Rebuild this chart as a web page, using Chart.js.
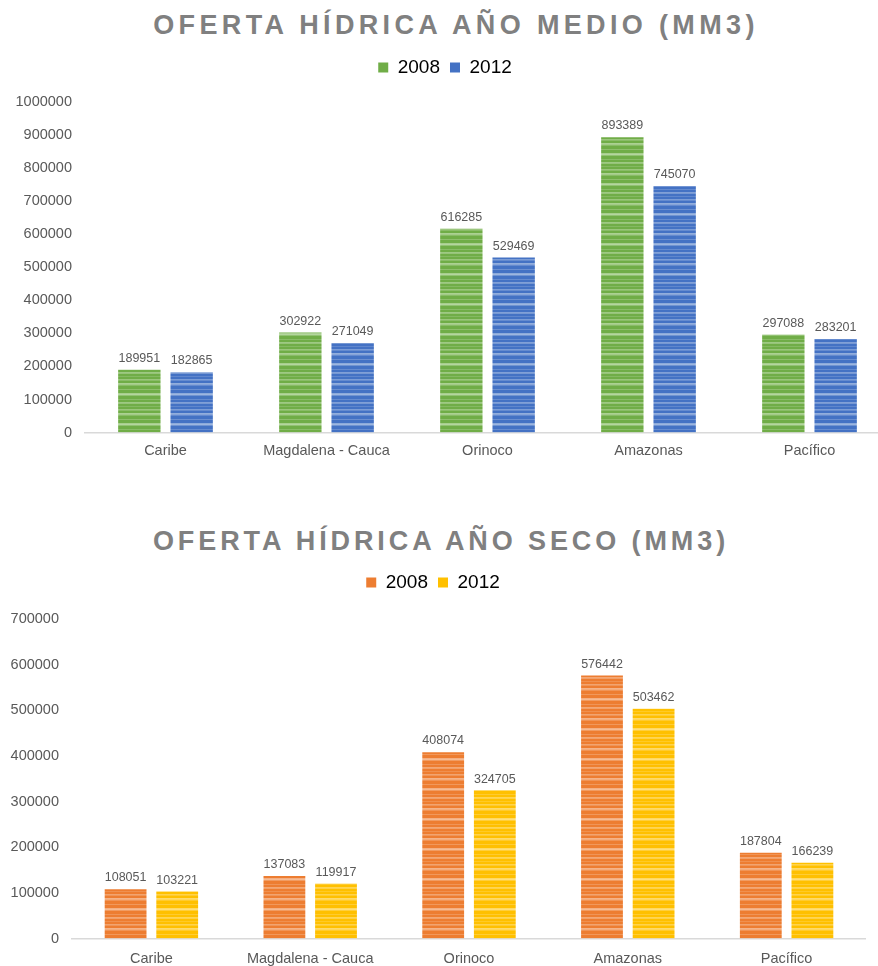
<!DOCTYPE html>
<html>
<head>
<meta charset="utf-8">
<script src="https://cdn.jsdelivr.net/npm/chart.js@4/dist/chart.umd.min.js"></script>
<style>
    body { margin: 0; width: 878px; height: 966px; overflow: hidden; background: #fff; position: relative; font-family: "Liberation Sans", Arial, sans-serif; }
    .title { position: absolute; left: 0; width: 878px; text-align: center; font-weight: bold; font-size: 27px; letter-spacing: 4.35px; color: #808080; line-height: 1; }
    .box { position: absolute; left: 0; }
</style>
</head>
<body>
<div class="title" style="top: 12px; left: 17px;">OFERTA HÍDRICA AÑO MEDIO (MM3)</div>
<div class="box" style="top: 48px; width: 890px; height: 422px;"><canvas id="medio"></canvas></div>

<div class="title" style="top: 528px; left: 2px; letter-spacing: 3.9px;">OFERTA HÍDRICA AÑO SECO (MM3)</div>
<div class="box" style="top: 563px; width: 866px; height: 417px;"><canvas id="seco"></canvas></div>

<script>
const regiones = ['Caribe', 'Magdalena - Cauca', 'Orinoco', 'Amazonas', 'Pacífico'];
const series = ['2008', '2012'];

const medio2008 = [189951, 302922, 616285, 893389, 297088];
const medio2012 = [182865, 271049, 529469, 745070, 283201];
const seco2008 = [108051, 137083, 408074, 576442, 187804];
const seco2012 = [103221, 119917, 324705, 503462, 166239];

const medioMax = 1000000;
const secoMax = 700000;
const paso = 100000;

// striped fill like the office "horizontal lines" texture
function stripes(base, light) {
    const c = document.createElement('canvas');
    c.width = 4; c.height = 30;
    const g = c.getContext('2d');
    g.fillStyle = base;
    g.fillRect(0, 0, 4, 30);
    const rows = [[1, 0.5], [2, 0.3], [5, 0.7], [6, 0.6], [7, 0.3], [11, 0.35], [15, 0.65], [16, 0.8], [17, 0.4], [21, 0.3], [24, 0.55], [25, 0.45], [28, 0.25]];
    rows.forEach(([y, a]) => {
        g.globalAlpha = a;
        g.fillStyle = light;
        g.fillRect(0, y, 4, 1);
    });
    return g.createPattern(c, 'repeat');
}

const valueLabels = {
    id: 'valueLabels',
    afterDatasetsDraw(chart) {
        const ctx = chart.ctx;
        ctx.save();
        ctx.font = '12.5px "Liberation Sans", Arial, sans-serif';
        ctx.fillStyle = '#595959';
        ctx.textAlign = 'center';
        ctx.textBaseline = 'bottom';
        chart.data.datasets.forEach((ds, i) => {
            chart.getDatasetMeta(i).data.forEach((bar, j) => {
                ctx.fillText(ds.data[j], bar.x, bar.y - 5);
            });
        });
        ctx.restore();
    }
};

function legendGap(extra) {
    return {
        id: 'legendGap',
        beforeInit(chart) {
            const fit = chart.legend.fit;
            chart.legend.fit = function () {
                fit.bind(chart.legend)();
                this.height += extra;
            };
        }
    };
}

function makeChart(id, d1, d2, colors, max, gap, xPad, yWidth) {
    return new Chart(document.getElementById(id), {
        type: 'bar',
        data: {
            labels: regiones,
            datasets: [
                { label: series[0], data: d1, backgroundColor: stripes(colors[0], colors[1]), solid: colors[0] },
                { label: series[1], data: d2, backgroundColor: stripes(colors[2], colors[3]), solid: colors[2] }
            ]
        },
        options: {
            responsive: true,
            maintainAspectRatio: false,
            animation: false,
            categoryPercentage: 0.65,
            barPercentage: 0.81,
            layout: { padding: 0 },
            plugins: {
                legend: {
                    position: 'top',
                    labels: {
                        boxWidth: 10,
                        boxHeight: 10,
                        padding: 10,
                        color: '#595959',
                        font: { size: 19, family: '"Liberation Sans", Arial, sans-serif' },
                        generateLabels: (chart) => chart.data.datasets.map((ds, i) => ({
                            text: ds.label,
                            fillStyle: ds.solid,
                            strokeStyle: ds.solid,
                            lineWidth: 0,
                            datasetIndex: i
                        }))
                    }
                },
                tooltip: { enabled: false }
            },
            scales: {
                x: {
                    grid: { display: false, drawTicks: false },
                    border: { display: true, color: '#d9d9d9', width: 1.5 },
                    ticks: {
                        color: '#595959',
                        padding: xPad,
                        font: { size: 14.5, family: '"Liberation Sans", Arial, sans-serif' }
                    }
                },
                y: {
                    min: 0,
                    max: max,
                    grid: { display: false, drawTicks: false },
                    border: { display: false },
                    afterFit: (scale) => { scale.width = yWidth; },
                    ticks: {
                        stepSize: paso,
                        color: '#595959',
                        padding: 13,
                        callback: (v) => String(v),
                        font: { size: 14.5, family: '"Liberation Sans", Arial, sans-serif' }
                    }
                }
            }
        },
        plugins: [valueLabels, legendGap(gap)]
    });
}

makeChart('medio', medio2008, medio2012, ['#70ad47', '#c5e0b4', '#4472c4', '#b4c7e7'], medioMax, 15, 10, 85);
makeChart('seco', seco2008, seco2012, ['#ed7d31', '#f8cbad', '#ffc000', '#ffe699'], secoMax, 17, 12, 72);
</script>
</body>
</html>
